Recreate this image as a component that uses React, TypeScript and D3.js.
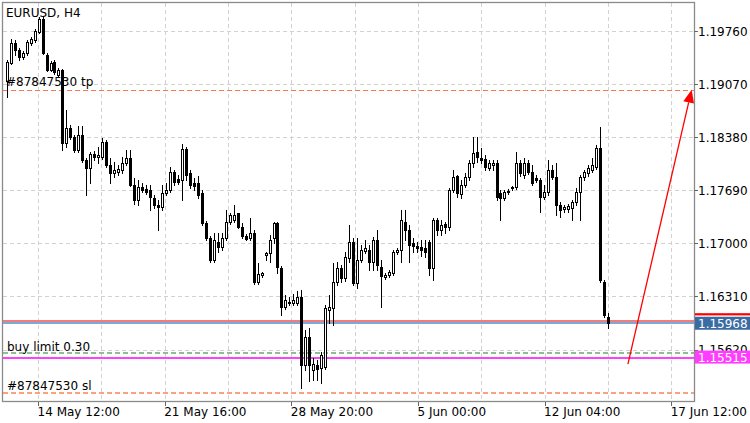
import React from "react";
import * as d3 from "d3";

const chartTitle = "EURUSD, H4";

const opens = [
  1.19113, 1.19347, 1.19607, 1.19516, 1.19425, 1.19477, 1.19607, 1.19646, 1.19750, 1.19920,
  1.19451, 1.19256, 1.19360, 1.19191, 1.19256, 1.18305, 1.18501, 1.18383, 1.18214, 1.18409,
  1.18084, 1.17980, 1.18162, 1.18123, 1.18123, 1.18318, 1.18019, 1.17915, 1.17928, 1.17954,
  1.18045, 1.18110, 1.17759, 1.17563, 1.17732, 1.17706, 1.17693, 1.17589, 1.17498, 1.17472,
  1.17654, 1.17693, 1.17928, 1.17837, 1.17824, 1.18227, 1.17915, 1.17785, 1.17785, 1.17654,
  1.17264, 1.17068, 1.16782, 1.17016, 1.16951, 1.17068, 1.17277, 1.17303, 1.17394, 1.17212,
  1.17094, 1.17068, 1.17134, 1.16496, 1.16587, 1.16847, 1.16873, 1.17068, 1.17264, 1.16678,
  1.16170, 1.16235, 1.16222, 1.16222, 1.16300, 1.15415, 1.15780, 1.15350, 1.15415, 1.15376,
  1.15389, 1.16131, 1.16157, 1.16496, 1.16678, 1.16548, 1.16808, 1.17016, 1.16483, 1.16782,
  1.16899, 1.16912, 1.16756, 1.17042, 1.16691, 1.16561, 1.16587, 1.16613, 1.16886, 1.16912,
  1.17277, 1.17173, 1.17003, 1.16964, 1.16951, 1.16938, 1.17016, 1.16678, 1.17303, 1.17173,
  1.17251, 1.17212, 1.17693, 1.17876, 1.17641, 1.17759, 1.17863, 1.18045, 1.18188, 1.18110,
  1.18097, 1.17980, 1.18019, 1.18045, 1.17654, 1.17589, 1.17667, 1.17719, 1.17732, 1.18045,
  1.17889, 1.18045, 1.17928, 1.17850, 1.17824, 1.17602, 1.17667, 1.17954, 1.17863, 1.17498,
  1.17446, 1.17446, 1.17459, 1.17537, 1.17667, 1.17863, 1.17915, 1.17954, 1.17993, 1.18240,
  1.16496, 1.16040,
];

const highs = [
  1.19386, 1.19659, 1.19646, 1.19542, 1.19503, 1.19646, 1.19685, 1.19789, 1.19946, 1.19959,
  1.19477, 1.19373, 1.19386, 1.19282, 1.19269, 1.18735, 1.18540, 1.18409, 1.18527, 1.18527,
  1.18110, 1.18188, 1.18201, 1.18253, 1.18370, 1.18344, 1.18110, 1.18058, 1.18019, 1.18123,
  1.18214, 1.18214, 1.17850, 1.17824, 1.17785, 1.17759, 1.17759, 1.17628, 1.17563, 1.17759,
  1.17785, 1.17993, 1.17954, 1.17889, 1.18292, 1.18253, 1.17954, 1.17850, 1.17876, 1.17693,
  1.17290, 1.17094, 1.17134, 1.17134, 1.17134, 1.17433, 1.17394, 1.17498, 1.17394, 1.17264,
  1.17121, 1.17329, 1.17173, 1.16743, 1.16626, 1.16886, 1.17107, 1.17277, 1.17277, 1.16704,
  1.16326, 1.16300, 1.16339, 1.16379, 1.16392, 1.15871, 1.15897, 1.15506, 1.15480, 1.15584,
  1.16196, 1.16326, 1.16743, 1.16756, 1.16717, 1.16886, 1.17238, 1.17068, 1.17068, 1.16977,
  1.17042, 1.16977, 1.17081, 1.17173, 1.16782, 1.16613, 1.16652, 1.16912, 1.16938, 1.17433,
  1.17433, 1.17238, 1.17068, 1.17016, 1.17042, 1.17042, 1.17042, 1.17329, 1.17329, 1.17303,
  1.17277, 1.17719, 1.17954, 1.17889, 1.17824, 1.17915, 1.18084, 1.18383, 1.18383, 1.18240,
  1.18149, 1.18084, 1.18084, 1.18084, 1.17693, 1.17693, 1.17706, 1.17746, 1.18188, 1.18084,
  1.18110, 1.18084, 1.18019, 1.17889, 1.17850, 1.17759, 1.18084, 1.18019, 1.18045, 1.17537,
  1.17498, 1.17511, 1.17563, 1.17719, 1.17889, 1.17954, 1.18019, 1.18110, 1.18279, 1.18514,
  1.16522, 1.16092,
];

const lows = [
  1.18904, 1.19334, 1.19451, 1.19386, 1.19399, 1.19451, 1.19581, 1.19620, 1.19737, 1.19464,
  1.19243, 1.19243, 1.19204, 1.19165, 1.18214, 1.18253, 1.18357, 1.18188, 1.18188, 1.18058,
  1.17628, 1.17785, 1.18084, 1.18045, 1.18097, 1.17993, 1.17785, 1.17863, 1.17889, 1.17915,
  1.18019, 1.17746, 1.17511, 1.17498, 1.17667, 1.17641, 1.17433, 1.17459, 1.17173, 1.17433,
  1.17628, 1.17667, 1.17759, 1.17772, 1.17563, 1.17824, 1.17719, 1.17693, 1.17589, 1.17238,
  1.17042, 1.16756, 1.16756, 1.16886, 1.16912, 1.17042, 1.17251, 1.17277, 1.17199, 1.17068,
  1.17042, 1.17042, 1.16470, 1.16470, 1.16561, 1.16782, 1.16756, 1.17003, 1.16613, 1.16066,
  1.16144, 1.16196, 1.16196, 1.16196, 1.15116, 1.15350, 1.15207, 1.15220, 1.15220, 1.15181,
  1.15363, 1.15962, 1.15936, 1.16457, 1.16496, 1.16509, 1.16756, 1.16457, 1.16418, 1.16756,
  1.16873, 1.16652, 1.16652, 1.16652, 1.16170, 1.16535, 1.16561, 1.16587, 1.16860, 1.16756,
  1.17042, 1.16756, 1.16886, 1.16886, 1.16834, 1.16821, 1.16587, 1.16522, 1.17107, 1.17107,
  1.17134, 1.17173, 1.17667, 1.17602, 1.17589, 1.17732, 1.17824, 1.17993, 1.18058, 1.18045,
  1.17954, 1.17954, 1.17954, 1.17563, 1.17303, 1.17563, 1.17641, 1.17693, 1.17706, 1.17876,
  1.17850, 1.17902, 1.17759, 1.17798, 1.17407, 1.17576, 1.17628, 1.17837, 1.17368, 1.17342,
  1.17407, 1.17407, 1.17303, 1.17498, 1.17303, 1.17824, 1.17876, 1.17928, 1.17967, 1.16496,
  1.16040, 1.15897,
];

const closes = [
  1.19360, 1.19607, 1.19516, 1.19425, 1.19477, 1.19620, 1.19659, 1.19763, 1.19920, 1.19477,
  1.19256, 1.19347, 1.19230, 1.19256, 1.18305, 1.18501, 1.18383, 1.18214, 1.18409, 1.18084,
  1.17980, 1.18162, 1.18123, 1.18149, 1.18318, 1.18019, 1.17915, 1.17954, 1.17967, 1.18045,
  1.18110, 1.17759, 1.17563, 1.17732, 1.17693, 1.17667, 1.17602, 1.17498, 1.17472, 1.17654,
  1.17693, 1.17928, 1.17798, 1.17798, 1.18227, 1.17889, 1.17759, 1.17746, 1.17628, 1.17264,
  1.17068, 1.16782, 1.17042, 1.16951, 1.17068, 1.17277, 1.17368, 1.17368, 1.17212, 1.17094,
  1.17055, 1.17134, 1.16496, 1.16600, 1.16613, 1.16873, 1.17042, 1.17264, 1.16691, 1.16170,
  1.16261, 1.16222, 1.16261, 1.16300, 1.15415, 1.15780, 1.15415, 1.15428, 1.15363, 1.15545,
  1.16157, 1.16170, 1.16496, 1.16678, 1.16548, 1.16821, 1.17016, 1.16483, 1.16782, 1.16912,
  1.16938, 1.16756, 1.17042, 1.16717, 1.16574, 1.16587, 1.16626, 1.16886, 1.16912, 1.17303,
  1.17173, 1.16977, 1.16964, 1.16938, 1.16912, 1.16886, 1.16678, 1.17303, 1.17173, 1.17238,
  1.17212, 1.17693, 1.17863, 1.17654, 1.17759, 1.17863, 1.18045, 1.18175, 1.18123, 1.18084,
  1.17993, 1.18045, 1.18045, 1.17602, 1.17589, 1.17667, 1.17680, 1.17732, 1.18045, 1.17915,
  1.18045, 1.17928, 1.17785, 1.17824, 1.17602, 1.17667, 1.17954, 1.17863, 1.17498, 1.17433,
  1.17472, 1.17485, 1.17537, 1.17667, 1.17863, 1.17928, 1.17980, 1.18019, 1.18240, 1.16522,
  1.16066, 1.15968,
];

const priceTicks = [1.1976, 1.1907, 1.1838, 1.1769, 1.17, 1.1631, 1.1562];
const dateLabels = ["14 May 12:00", "21 May 16:00", "28 May 20:00", "5 Jun 00:00", "12 Jun 04:00", "17 Jun 12:00"];
const dateLabelBars = [8, 39.8, 71.6, 103.4, 135.2, 167];
const gridBars = [8, 23.9, 39.8, 55.7, 71.6, 87.5, 103.4, 119.3, 135.2, 151.1, 167];

const tpPrice = 1.19;
const slPrice = 1.1505;
const buyLimitPrice = 1.1557;
const alertPrice = 1.15515;
const bidPrice = 1.15968;
const askPrice = 1.15985;
const tpLabel = "#87847530 tp";
const slLabel = "#87847530 sl";
const buyLimitLabel = "buy limit 0.30";

const arrowBars = [156, 172];
const arrowPrices = [1.1543, 1.19];

const W = 750;
const H = 423;
const L = 3;
const T = 3;
const R = 694;
const B = 401.5;
const FONT = "DejaVu Sans, sans-serif";

export default function App() {
  const n = opens.length;
  const x = d3.scaleLinear().domain([0, n - 1]).range([6.7, 608]);
  const y = d3.scaleLinear().domain([1.1562, 1.1976]).range([349.5, 31.3]);
  const fmt = d3.format(".5f");

  const hy = (p: number) => Math.round(y(p)) + 0.5;

  // arrow geometry
  const ax1 = x(arrowBars[0]);
  const ay1 = y(arrowPrices[0]);
  const ax2 = x(arrowBars[1]);
  const ay2 = y(arrowPrices[1]);
  const dx = ax2 - ax1;
  const dy = ay2 - ay1;
  const len = Math.hypot(dx, dy);
  const ux = dx / len;
  const uy = dy / len;
  const headL = 13;
  const headW = 5.5;
  const bx = ax2 - ux * headL;
  const by = ay2 - uy * headL;
  const head = [
    [ax2, ay2],
    [bx - uy * headW, by + ux * headW],
    [bx + uy * headW, by - ux * headW],
  ];

  return (
    <svg
      width={W}
      height={H}
      style={{ position: "absolute", left: 0, top: 0, background: "#fff" }}
      fontFamily={FONT}
      fontSize={12}
    >
      <rect x={0} y={0} width={W} height={H} fill="#fff" />
      <defs>
        <clipPath id="plot">
          <rect x={L} y={T} width={R - L} height={B - T} />
        </clipPath>
      </defs>

      {/* grid */}
      <g shapeRendering="crispEdges" stroke="#d2d2d2" strokeDasharray="4,3">
        {priceTicks.map((t) => (
          <line key={"h" + t} x1={L} x2={R} y1={hy(t)} y2={hy(t)} />
        ))}
        {gridBars.map((b) => (
          <line key={"v" + b} x1={Math.floor(x(b)) + 0.5} x2={Math.floor(x(b)) + 0.5} y1={T} y2={B} />
        ))}
      </g>

      {/* order lines */}
      <g clipPath="url(#plot)" shapeRendering="crispEdges">
        <line x1={L} x2={R} y1={hy(tpPrice)} y2={hy(tpPrice)} stroke="#f27a4e" strokeWidth={1} strokeDasharray="5,3" />
        <line x1={L} x2={R} y1={Math.round(y(slPrice))} y2={Math.round(y(slPrice))} stroke="#ffa07c" strokeWidth={2} strokeDasharray="5,3" />
        <line x1={L} x2={R} y1={Math.round(y(buyLimitPrice))} y2={Math.round(y(buyLimitPrice))} stroke="#8cc08c" strokeWidth={2} strokeDasharray="5,3" />
        <line x1={L} x2={R} y1={Math.round(y(alertPrice))} y2={Math.round(y(alertPrice))} stroke="#ff40ff" strokeWidth={2} />
        <line x1={L} x2={R} y1={Math.round(y(askPrice))} y2={Math.round(y(askPrice))} stroke="#f07c7c" strokeWidth={2} />
        <line x1={L} x2={R} y1={Math.round(y(bidPrice))} y2={Math.round(y(bidPrice))} stroke="#7ea9d6" strokeWidth={2} />
      </g>

      {/* candles */}
      <g shapeRendering="crispEdges" clipPath="url(#plot)">
        {opens.map((o, i) => {
          const c = closes[i];
          const cx = Math.round(x(i));
          const bull = c > o;
          const yTop = Math.round(y(Math.max(o, c)));
          const yBot = Math.round(y(Math.min(o, c)));
          const yH = Math.round(y(highs[i]));
          const yL = Math.round(y(lows[i]));
          const h = Math.max(1, yBot - yTop);
          return (
            <g key={i}>
              <line x1={cx + 0.5} x2={cx + 0.5} y1={yH} y2={yL + 1} stroke="#000" />
              {bull ? (
                <rect x={cx - 0.5} y={yTop + 0.5} width={2} height={h} fill="#fff" stroke="#000" />
              ) : (
                <rect x={cx - 1} y={yTop} width={3} height={h + 1} fill="#000" />
              )}
            </g>
          );
        })}
      </g>

      {/* arrow */}
      <line x1={ax1} y1={ay1} x2={bx} y2={by} stroke="#ff0000" strokeWidth={1.3} />
      <polygon points={head.map((p) => p.join(",")).join(" ")} fill="#ff0000" />

      {/* chart texts */}
      <text x={6} y={16.7} fill="#000">{chartTitle}</text>
      <text x={6} y={y(tpPrice) - 3.5} fill="#000">{tpLabel}</text>
      <text x={7} y={y(buyLimitPrice) - 2.5} fill="#000">{buyLimitLabel}</text>
      <text x={7} y={y(slPrice) - 3} fill="#000">{slLabel}</text>

      {/* frame */}
      <rect x={L - 0.5} y={T - 0.5} width={R - L + 1} height={B - T + 0.5} fill="none" stroke="#8a8a8a" strokeWidth={1.3} />

      {/* price axis */}
      <g>
        {priceTicks.map((t) => (
          <g key={"p" + t}>
            <line x1={R} x2={R + 4} y1={hy(t)} y2={hy(t)} stroke="#666" shapeRendering="crispEdges" />
            <text x={698} y={y(t) + 4.5} fill="#000">{fmt(t)}</text>
          </g>
        ))}
      </g>

      {/* current price labels */}
      <rect x={695} y={313.2} width={W - 695} height={2.2} fill="#ff0000" />
      <rect x={695} y={y(bidPrice) - 6} width={W - 695} height={13} fill="#3a6ca3" />
      <text x={698} y={y(bidPrice) + 4.8} fill="#fff">{fmt(bidPrice)}</text>
      <rect x={695} y={y(alertPrice) - 7} width={W - 695} height={13} fill="#ff3cff" />
      <text x={698} y={y(alertPrice) + 4} fill="#fff">{fmt(alertPrice)}</text>

      {/* time axis */}
      <g>
        {dateLabelBars.map((b, i) => (
          <g key={"d" + i}>
            <line x1={Math.floor(x(b)) + 0.5} x2={Math.floor(x(b)) + 0.5} y1={B} y2={B + 4} stroke="#666" shapeRendering="crispEdges" />
            <text x={x(b) - 1} y={415.5} fill="#000">{dateLabels[i]}</text>
          </g>
        ))}
      </g>
    </svg>
  );
}
